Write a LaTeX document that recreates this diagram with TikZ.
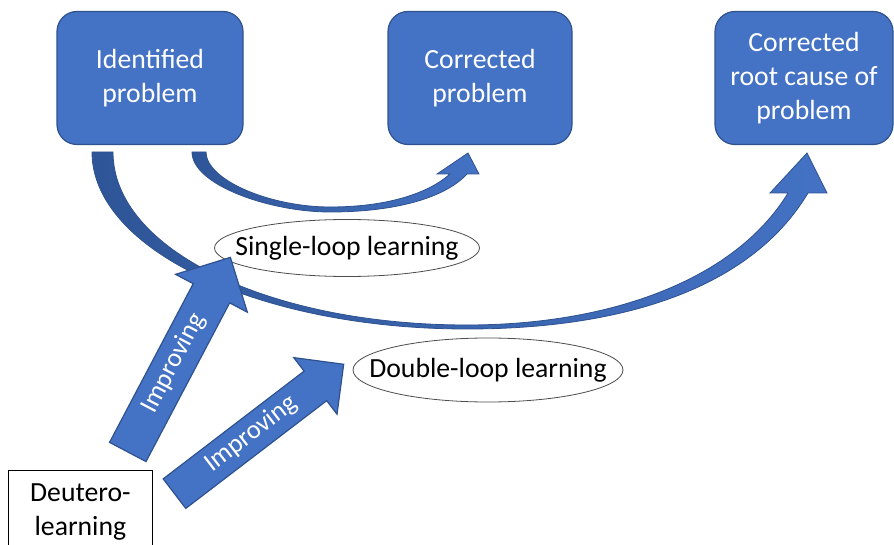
\documentclass[tikz,border=0pt]{standalone}
\usepackage{fontspec}
\setmainfont{Carlito}
\usetikzlibrary{shapes.arrows,shapes.geometric,positioning}

\definecolor{boxblue}{HTML}{4472C4}
\definecolor{boxedge}{HTML}{2F528F}
\definecolor{tailblue}{HTML}{2E5597}

\begin{document}
\begin{tikzpicture}[x=1pt,y=-1pt,
  probbox/.style={rectangle,rounded corners=20pt,draw=boxedge,line width=1.2pt,fill=boxblue,text=white,
    minimum width=186pt,minimum height=133pt,align=center,font=\fontsize{27.7}{34}\selectfont},
  loopell/.style={ellipse,draw=black!70,line width=0.8pt,fill=white,inner xsep=-30pt,inner ysep=0pt,
    font=\fontsize{27.7}{34}\selectfont},
  improve/.style={single arrow,draw=boxedge,line width=1.2pt,fill=boxblue,text=white,anchor=tail,
    text height=18pt,text depth=6pt,font=\fontsize{26.5}{30}\selectfont},
  loopshaft/.style={draw=boxedge,line width=0.8pt,left color=tailblue,right color=boxblue},
  deutbox/.style={rectangle,draw=black,line width=0.8pt,fill=white,minimum width=144pt,minimum height=84pt,
    align=center,font=\fontsize{27.7}{34}\selectfont}]

\useasboundingbox (0,0) rectangle (894,545);
\clip (0,0) rectangle (894,545);

% Problem boxes
\node[probbox] (ident) at (150,78) {Identified\\problem};
\node[probbox,minimum width=184pt] (corr) at (480,78) {Corrected\\problem};
\node[probbox,minimum width=178pt] (root) at (804,78) {Corrected\\root cause of\\problem};

% Single loop: identified -> corrected
\path[loopshaft] (192,152) .. controls (192,185) and (270,212) .. (330,212)
  .. controls (395,212) and (445,198) .. (467,174) -- (479,174) -- (468,153) -- (437,174) -- (450,174)
  .. controls (430,192) and (390,207) .. (330,207) .. controls (270,207) and (206,180) .. (206,152) -- cycle;

% Double loop: identified -> root cause
\path[loopshaft] (92,152) .. controls (92,250) and (260,329) .. (467,329)
  .. controls (620,329) and (750,290) .. (808,193) -- (827,193) -- (807,153) -- (770,193) -- (788,193)
  .. controls (735,280) and (610,325) .. (467,325) .. controls (270,325) and (113,250) .. (113,152) -- cycle;

% Learning labels
\node[loopell,minimum width=265pt,minimum height=57pt] (single) at (347,248) {Single-loop learning};
\node[loopell,minimum width=270pt,minimum height=64pt] (double) at (488,370) {Double-loop learning};

% Deutero-learning
\node[deutbox,anchor=north west] (deutero) at (8,470) {Deutero-\\learning};

% Improving arrows
\node[improve,rotate=62.2,minimum height=220pt,inner ysep=8pt,single arrow head extend=20pt] (impsingle) at (127.5,452.5) {Improving};
\node[improve,rotate=37.4,minimum height=213pt,inner ysep=6pt,single arrow head extend=17pt] (impdouble) at (174,494) {Improving};

\end{tikzpicture}
\end{document}
